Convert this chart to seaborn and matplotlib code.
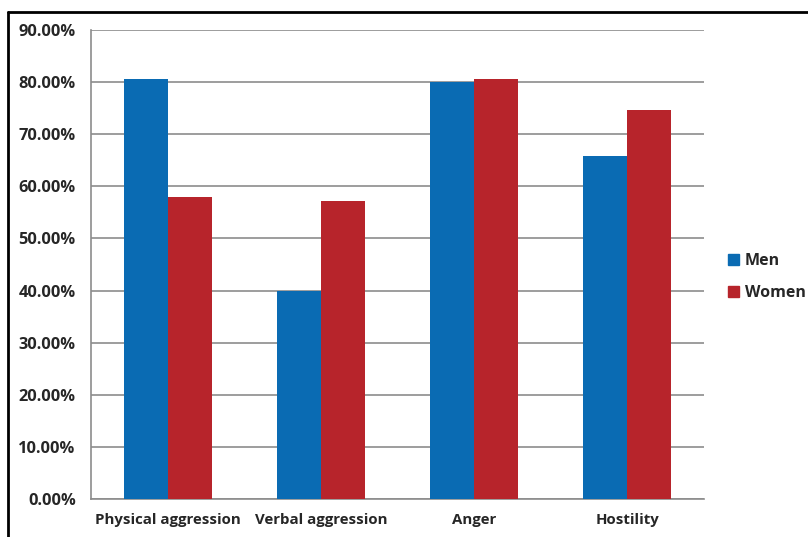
import pandas as pd
import matplotlib
matplotlib.use('Agg')
import matplotlib.pyplot as plt
import seaborn as sns
from matplotlib.ticker import PercentFormatter
from matplotlib.lines import Line2D

# ---- data ----
categories = ['Physical aggression', 'Verbal aggression', 'Anger', 'Hostility']
men = [80.6, 40.0, 80.0, 65.8]
women = [58.0, 57.2, 80.6, 74.6]

df = pd.DataFrame({
    'Category': categories * 2,
    'Value': men + women,
    'Group': ['Men'] * 4 + ['Women'] * 4,
})

sns.set_style('white')
plt.rcParams['font.family'] = ['Open Sans', 'DejaVu Sans']
plt.rcParams['font.weight'] = 'bold'

fig = plt.figure(figsize=(8.08, 5.37), dpi=100)
ax = fig.add_axes([91 / 808, 1 - 499 / 537, (704 - 91) / 808, (499 - 30) / 537])

palette = {'Men': '#0A6BB3', 'Women': '#B7242B'}
sns.barplot(data=df, x='Category', y='Value', hue='Group', palette=palette,
            width=0.575, saturation=1, linewidth=0, ax=ax, zorder=3)

ax.set_ylim(0, 90)
ax.set_xlim(-0.5, 3.5)
ax.set_yticks(range(0, 91, 10))
ax.yaxis.set_major_formatter(PercentFormatter(decimals=2))
ax.grid(axis='y', color='#8c8c8c', linewidth=1.2, zorder=0)
ax.set_axisbelow(True)
ax.set_xlabel('')
ax.set_ylabel('')

# category boundary ticks on x axis
ax.set_xticks([-0.5, 0.5, 1.5, 2.5, 3.5], minor=True)
ax.tick_params(axis='x', which='minor', length=5, color='#8c8c8c', width=1.2, direction='out')
ax.tick_params(axis='x', which='major', length=0, labelsize=10.8, pad=10)
ax.tick_params(axis='y', length=5, color='#8c8c8c', width=1.2, direction='out', labelsize=11.8, pad=6)
for lbl in ax.get_xticklabels() + ax.get_yticklabels():
    lbl.set_fontweight('bold')

for side in ['top', 'right']:
    ax.spines[side].set_visible(False)
for side in ['left', 'bottom']:
    ax.spines[side].set_color('#8c8c8c')
    ax.spines[side].set_linewidth(1.2)

ax.legend_.remove()
fig.legend(handles=[plt.Rectangle((0, 0), 1, 1, color=palette['Men']),
                    plt.Rectangle((0, 0), 1, 1, color=palette['Women'])],
           labels=['Men', 'Women'], loc='center left',
           bbox_to_anchor=(728 / 808, 1 - 277 / 537), frameon=False,
           borderaxespad=0, borderpad=0,
           handlelength=0.7, handleheight=0.7, handletextpad=0.35,
           labelspacing=1.0, prop={'weight': 'bold', 'size': 11.5})

# frame lines at top and left of the figure
fig.add_artist(Line2D([8 / 808, 1], [1 - 12 / 537, 1 - 12 / 537], color='black', linewidth=2))
fig.add_artist(Line2D([8 / 808, 8 / 808], [0, 1 - 12 / 537], color='black', linewidth=2))

fig.savefig('out.png', dpi=100)
